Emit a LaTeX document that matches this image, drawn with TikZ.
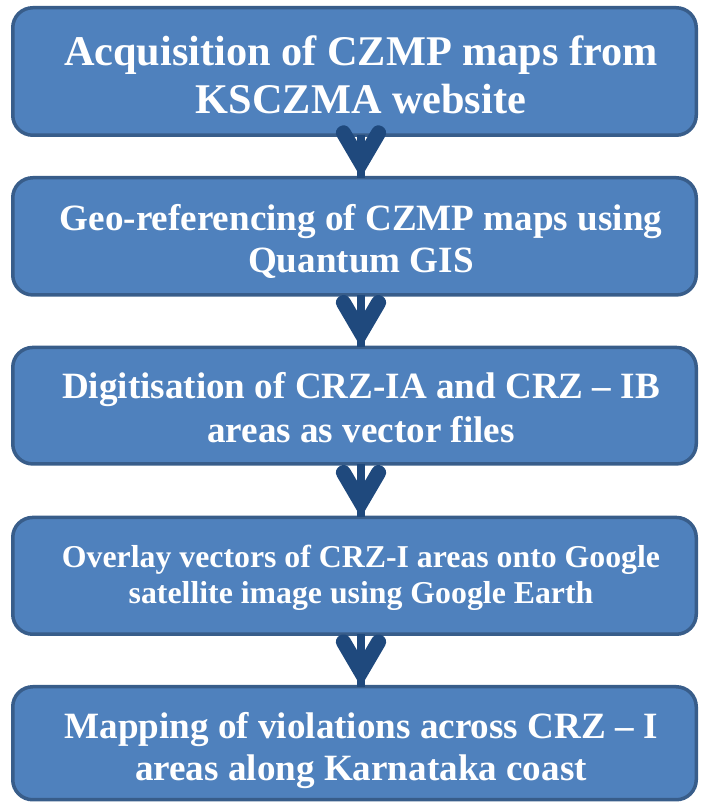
\documentclass[tikz,border=0pt]{standalone}
\usepackage{fontspec}
\setmainfont{Liberation Serif}
\definecolor{boxfill}{HTML}{4F81BD}
\definecolor{boxline}{HTML}{385D8A}
\definecolor{arrowc}{HTML}{1F497D}
\tikzset{
  stepbox/.style={draw=boxline, fill=boxfill, line width=3.5pt, rounded corners=20pt,
    minimum width=683.5pt, inner sep=0pt, outer sep=0pt},
  lbl/.style={text=white, anchor=base, inner sep=0pt, outer sep=0pt},
  stemline/.style={draw=arrowc, line width=8pt},
  chevhead/.pic={
    \fill[arrowc] (0,0) -- (-24,41) .. controls (-29.05,49.63) and (-16.1,57.2) .. (-11.05,48.58)
      -- (0,29.7) -- (11.05,48.58) .. controls (16.1,57.2) and (29.05,49.63) .. (24,41) -- cycle;
  }
}
\begin{document}
\begin{tikzpicture}[x=1pt,y=1pt]
\useasboundingbox (0,0) rectangle (701,803);
% boxes
\node[stepbox, minimum height=127.5pt] (b1) at (354.5,731.5) {};
\node[stepbox, minimum height=117.2pt] (b2) at (354.5,566.65) {};
\node[stepbox, minimum height=116.5pt] (b3) at (354.5,397.3) {};
\node[stepbox, minimum height=116.8pt] (b4) at (354.5,227.15) {};
\node[stepbox, minimum height=113pt] (b5) at (354.5,59.75) {};
% texts
\node[lbl, font=\fontsize{42.3}{48}\selectfont\bfseries] (t1a) at (361,737) {Acquisition of CZMP maps from};
\node[lbl, font=\fontsize{42.3}{48}\selectfont\bfseries] (t1b) at (361,689) {KSCZMA website};
\node[lbl, font=\fontsize{37.1}{42}\selectfont\bfseries] (t2a) at (361,572) {Geo-referencing of CZMP maps using};
\node[lbl, font=\fontsize{37.1}{42}\selectfont\bfseries] (t2b) at (361,530) {Quantum GIS};
\node[lbl, font=\fontsize{37.1}{42}\selectfont\bfseries] (t3a) at (361,404) {Digitisation of CRZ-IA and CRZ – IB};
\node[lbl, font=\fontsize{37.1}{42}\selectfont\bfseries] (t3b) at (361,360) {areas as vector files};
\node[lbl, font=\fontsize{31.8}{36}\selectfont\bfseries] (t4a) at (361,235) {Overlay vectors of CRZ-I areas onto Google};
\node[lbl, font=\fontsize{31.8}{36}\selectfont\bfseries] (t4b) at (361,199) {satellite image using Google Earth};
\node[lbl, font=\fontsize{37.1}{42}\selectfont\bfseries] (t5a) at (361,64) {Mapping of violations across CRZ – I};
\node[lbl, font=\fontsize{37.1}{42}\selectfont\bfseries] (t5b) at (361,22) {areas along Karnataka coast};
% connectors
\draw[stemline] ([xshift=6.5pt]b1.south) -- ([xshift=6.5pt]b2.north);
\pic at ([xshift=6.5pt]b2.north) {chevhead};
\draw[stemline] ([xshift=6.5pt]b2.south) -- ([xshift=6.5pt]b3.north);
\pic at ([xshift=6.5pt]b3.north) {chevhead};
\draw[stemline] ([xshift=6.5pt]b3.south) -- ([xshift=6.5pt]b4.north);
\pic at ([xshift=6.5pt]b4.north) {chevhead};
\draw[stemline] ([xshift=6.5pt]b4.south) -- ([xshift=6.5pt]b5.north);
\pic at ([xshift=6.5pt]b5.north) {chevhead};
\end{tikzpicture}
\end{document}
